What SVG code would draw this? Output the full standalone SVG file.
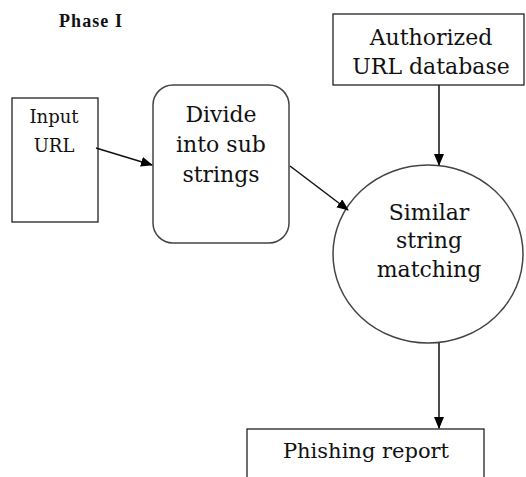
<svg xmlns="http://www.w3.org/2000/svg" width="526" height="477" viewBox="0 0 526 477">
<style>
.box{fill:#fff;stroke:#222;stroke-width:1.3}
.soft{fill:#fff;stroke:#444;stroke-width:1.5}
.t{font-family:"DejaVu Serif",serif;fill:#111;text-anchor:middle}
.edge{stroke:#111;stroke-width:1.5;fill:none;marker-end:url(#ah)}
</style>
<defs>
<marker id="ah" markerWidth="12" markerHeight="10" refX="11" refY="5" orient="auto" markerUnits="userSpaceOnUse">
<path d="M0,0 L12,5 L0,10 Z" fill="#000"/>
</marker>
</defs>
<rect width="526" height="477" fill="#fff"/>
<text x="59" y="27" font-family="Liberation Serif,serif" font-weight="bold" font-size="18" textLength="63" fill="#111">Phase I</text>
<g id="input">
<rect class="box" x="12" y="98" width="86" height="124"/>
<text class="t" font-size="18" x="54" y="123">Input</text>
<text class="t" font-size="18" x="54" y="152">URL</text>
</g>
<g id="divide">
<rect class="soft" x="153" y="85" width="136" height="158" rx="20"/>
<text class="t" font-size="22" x="221" y="122">Divide</text>
<text class="t" font-size="22" x="221" y="152">into sub</text>
<text class="t" font-size="22" x="221" y="182">strings</text>
</g>
<g id="authorized">
<rect class="box" x="333" y="14" width="191" height="71"/>
<text class="t" font-size="22" x="431" y="45">Authorized</text>
<text class="t" font-size="22" x="431" y="74">URL database</text>
</g>
<g id="matching">
<ellipse class="soft" cx="428" cy="254" rx="95" ry="89"/>
<text class="t" font-size="22" x="429" y="220">Similar</text>
<text class="t" font-size="22" x="429" y="248">string</text>
<text class="t" font-size="22" x="429" y="277">matching</text>
</g>
<g id="report">
<rect class="box" x="247" y="429" width="237" height="60"/>
<text class="t" font-size="21" x="366" y="458">Phishing report</text>
</g>
<g id="connectors">
<line class="edge" x1="96" y1="148" x2="152" y2="165"/>
<line class="edge" x1="290" y1="166" x2="348" y2="210"/>
<line class="edge" x1="439" y1="85" x2="439" y2="165"/>
<line class="edge" x1="439" y1="343" x2="439" y2="428"/>
</g>
</svg>
